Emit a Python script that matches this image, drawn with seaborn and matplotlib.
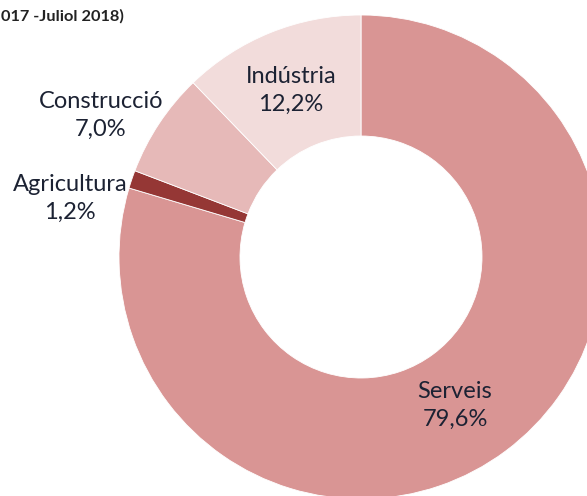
import matplotlib
matplotlib.use("Agg")
import matplotlib.pyplot as plt
import seaborn as sns

# afiliats per sector, ordre horari des de dalt
sectors = ["Serveis", "Agricultura", "Construcció", "Indústria"]
shares = [79.6, 1.2, 7.0, 12.2]
colors = ["#D99594", "#953735", "#E6B9B8", "#F2DCDB"]
title = "017 -Juliol 2018)"

sns.set_theme(style="white")
plt.rcParams["font.family"] = ["Lato", "DejaVu Sans"]

fig = plt.figure(figsize=(5.87, 4.96), dpi=100)
# axes bigger than the visible area so the donut is cropped like the original
ax = fig.add_axes([119 / 587, -3 / 496, 484 / 587, 484 / 496])

wedges, _ = ax.pie(
    shares,
    colors=colors,
    startangle=90,
    counterclock=False,
    radius=1,
    wedgeprops=dict(width=0.5, edgecolor="white", linewidth=0.6),
)
ax.set_xlim(-1, 1)
ax.set_ylim(-1, 1)
ax.set_aspect("equal")
ax.axis("off")

# label positions in figure pixels (from top-left)
label_pos = {
    "Serveis": (455, 405),
    "Agricultura": (70, 198),
    "Construcció": (101, 115),
    "Indústria": (291, 90),
}
txt_color = "#1c2233"
for name, val in zip(sectors, shares):
    px, py = label_pos[name]
    fig.text(px / 587, 1 - py / 496,
             f"{name}\n{val:.1f}%".replace(".", ","),
             ha="center", va="center", fontsize=17, color=txt_color,
             linespacing=1.4)

fig.text(1 / 587, 1 - 16 / 496, title, ha="left", va="center",
         fontsize=11.8, fontweight="bold", color="#222222")

fig.savefig("out.png", dpi=100)
